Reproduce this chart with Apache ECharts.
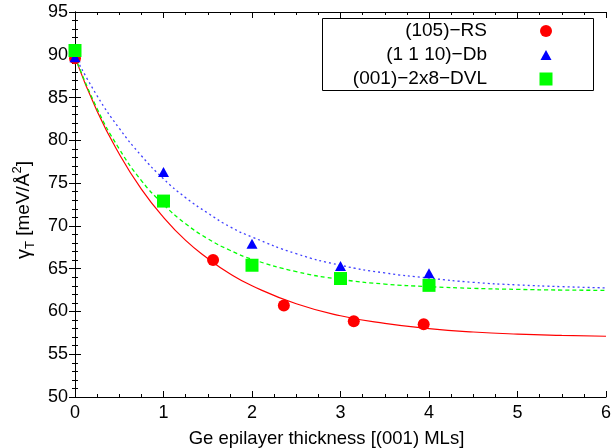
<!DOCTYPE html>
<html><head><meta charset="utf-8">
<script src="https://cdn.jsdelivr.net/npm/echarts@6/dist/echarts.min.js"></script>
<style>html,body{margin:0;padding:0;background:#fff}#chart{width:613px;height:448px}</style>
</head><body><div id="chart"></div>
<script>
// Surface energy of Ge epilayers on Si: computed points and fitted decay curves
const seriesNames = ['(105)\u2212RS', '(1 1 10)\u2212Db', '(001)\u22122x8\u2212DVL'];

// fitted curves sampled along the thickness axis
const fitX  = [0, 0.25, 0.5, 0.75, 1, 1.25, 1.5, 1.75, 2, 2.5, 3, 3.5, 4, 4.5, 5, 5.5, 6];
const rsFit = [89.7, 83.4, 78.4, 74.3, 71.0, 68.3, 66.2, 64.4, 63.0, 60.9, 59.5, 58.6, 58.0, 57.6, 57.35, 57.2, 57.1];
const dbFit = [89.85, 85.2, 81.4, 78.2, 75.5, 73.3, 71.5, 69.9, 68.7, 66.75, 65.4, 64.5, 63.9, 63.4, 63.1, 62.9, 62.75];
const dvlFit = [89.8, 83.7, 79.0, 75.3, 72.5, 70.25, 68.5, 67.15, 66.1, 64.65, 63.75, 63.2, 62.9, 62.7, 62.58, 62.5, 62.47];

// computed points
const rsX  = [0, 1.56, 2.36, 3.15, 3.94];
const rsY  = [89.6, 66.0, 60.7, 58.85, 58.5];
const dbX  = [0, 1, 2, 3, 4];
const dbY  = [89.7, 76.3, 67.9, 65.3, 64.45];
const dvlX = [0, 1, 2, 3, 4];
const dvlY = [90.5, 72.9, 65.4, 63.85, 63.05];

const colors = ['#ff0000', '#0000ff', '#00ff00'];
const FONT = 'Liberation Sans, Arial, Helvetica, sans-serif';

const pairs = (xs, ys) => xs.map((x, i) => [x, ys[i]]);

const chart = echarts.init(document.getElementById('chart'), null, { renderer: 'canvas' });

const axisCommon = {
  axisLine: { show: true, lineStyle: { color: '#000', width: 1 } },
  axisTick: { show: true, inside: true, length: 6, lineStyle: { color: '#000' } },
  minorTick: { show: true, length: 3, lineStyle: { color: '#000' } },
  splitLine: { show: false },
  minorSplitLine: { show: false }
};

const option = {
  animation: false,
  backgroundColor: '#fff',
  grid: { left: 75, right: 7, top: 12, bottom: 51, containLabel: false, outerBoundsMode: 'none' },
  xAxis: [
    Object.assign({}, axisCommon, {
      type: 'value', min: 0, max: 6, interval: 1, position: 'bottom',
      minorTick: Object.assign({}, axisCommon.minorTick, { splitNumber: 4 }),
      axisLabel: { color: '#000', fontSize: 18, fontFamily: FONT, margin: 7 },
      name: 'Ge epilayer thickness [(001) MLs]',
      nameLocation: 'middle', nameGap: 32,
      nameTextStyle: { color: '#000', fontSize: 18.5, fontFamily: FONT, padding: [0, 28, 0, 0] }
    }),
    Object.assign({}, axisCommon, {
      type: 'value', min: 0, max: 6, interval: 1, position: 'top',
      minorTick: Object.assign({}, axisCommon.minorTick, { splitNumber: 4 }),
      axisLabel: { show: false }
    })
  ],
  yAxis: [
    Object.assign({}, axisCommon, {
      type: 'value', min: 50, max: 95, interval: 5, position: 'left',
      minorTick: Object.assign({}, axisCommon.minorTick, { splitNumber: 5 }),
      axisLabel: { color: '#000', fontSize: 18, fontFamily: FONT, margin: 7 }
    }),
    Object.assign({}, axisCommon, {
      type: 'value', min: 50, max: 95, interval: 5, position: 'right',
      minorTick: Object.assign({}, axisCommon.minorTick, { splitNumber: 5 }),
      axisLabel: { show: false }
    })
  ],
  series: [
    { type: 'line', data: pairs(fitX, rsFit), smooth: true, showSymbol: false,
      lineStyle: { color: colors[0], width: 1.2 }, silent: true, z: 2 },
    { type: 'line', data: pairs(fitX, dbFit), smooth: true, showSymbol: false,
      lineStyle: { color: colors[1], width: 1.3, type: [2, 3], opacity: 0.75 }, silent: true, z: 2 },
    { type: 'line', data: pairs(fitX, dvlFit), smooth: true, showSymbol: false,
      lineStyle: { color: colors[2], width: 1.3, type: [4, 3] }, silent: true, z: 2 },
    { name: seriesNames[0], type: 'scatter', data: pairs(rsX, rsY), symbol: 'circle', symbolSize: 12,
      itemStyle: { color: colors[0], opacity: 1 }, clip: false, z: 3 },
    { name: seriesNames[1], type: 'scatter', data: pairs(dbX, dbY), symbol: 'triangle', symbolSize: [11, 10],
      itemStyle: { color: colors[1], opacity: 1 }, clip: false, z: 4 },
    { name: seriesNames[2], type: 'scatter', data: pairs(dvlX, dvlY), symbol: 'rect', symbolSize: 13,
      itemStyle: { color: colors[2], opacity: 1 }, clip: false, z: 5 }
  ],
  graphic: [
    // y-axis title with subscript and superscript
    {
      type: 'text', x: 24, y: 210, rotation: Math.PI / 2,
      style: {
        text: '{g|\u03b3}{sub|T}{n| [meV/\u00c5}{sup|2}{n|]}',
        align: 'center', verticalAlign: 'middle', fill: '#000',
        rich: {
          g: { fontSize: 20, fontFamily: FONT, fill: '#000', lineHeight: 30, verticalAlign: 'middle' },
          n: { fontSize: 19, fontFamily: FONT, fill: '#000', lineHeight: 30, verticalAlign: 'middle' },
          sub: { fontSize: 13, fontFamily: FONT, fill: '#000', lineHeight: 30, verticalAlign: 'middle', padding: [12, 0, 0, 0] },
          sup: { fontSize: 13, fontFamily: FONT, fill: '#000', lineHeight: 30, verticalAlign: 'middle', padding: [0, 0, 13, 0] }
        }
      }
    },
    // legend
    {
      type: 'group', z: 100,
      children: [
        { type: 'rect', shape: { x: 322.5, y: 18.5, width: 271, height: 72 },
          style: { fill: '#fff', stroke: '#000', lineWidth: 1 } },
        { type: 'text', x: 487, y: 31, style: { text: seriesNames[0], align: 'right', verticalAlign: 'middle', fontSize: 19, fontFamily: FONT, fill: '#000' } },
        { type: 'text', x: 487, y: 55, style: { text: seriesNames[1], align: 'right', verticalAlign: 'middle', fontSize: 19, fontFamily: FONT, fill: '#000' } },
        { type: 'text', x: 487, y: 79, style: { text: seriesNames[2], align: 'right', verticalAlign: 'middle', fontSize: 19, fontFamily: FONT, fill: '#000' } },
        { type: 'circle', shape: { cx: 546, cy: 31, r: 6 }, style: { fill: colors[0] } },
        { type: 'polygon', shape: { points: [[546, 50], [551.5, 60], [540.5, 60]] }, style: { fill: colors[1] } },
        { type: 'rect', shape: { x: 539.5, y: 72.5, width: 13, height: 13 }, style: { fill: colors[2] } }
      ]
    }
  ]
};

chart.setOption(option);
</script>
</body></html>
